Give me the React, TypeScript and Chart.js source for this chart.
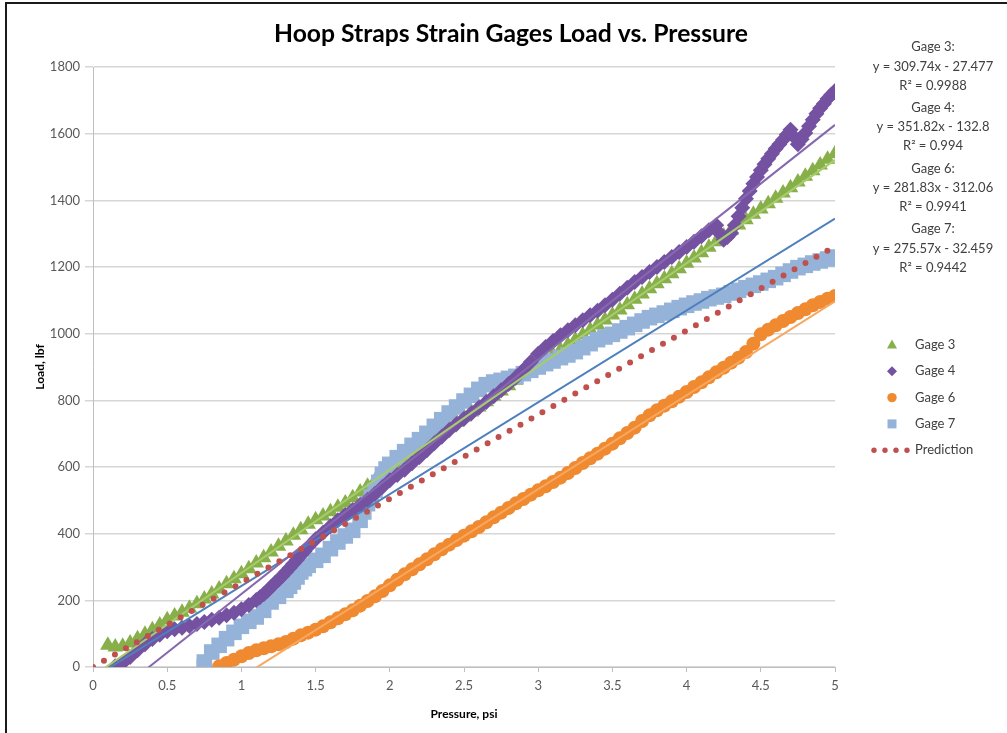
import React, { useEffect, useRef } from 'react';
import { Chart, registerables } from 'chart.js';

Chart.register(...registerables);

// Pressure readings (psi), one row per 0.5 psi
const PRESSURE = [
  0.0, 0.05, 0.1, 0.15, 0.2, 0.25, 0.3, 0.35, 0.4, 0.45,
  0.5, 0.55, 0.6, 0.65, 0.7, 0.75, 0.8, 0.85, 0.9, 0.95,
  1.0, 1.05, 1.1, 1.15, 1.2, 1.25, 1.3, 1.35, 1.4, 1.45,
  1.5, 1.55, 1.6, 1.65, 1.7, 1.75, 1.8, 1.85, 1.9, 1.95,
  2.0, 2.05, 2.1, 2.15, 2.2, 2.25, 2.3, 2.35, 2.4, 2.45,
  2.5, 2.55, 2.6, 2.65, 2.7, 2.75, 2.8, 2.85, 2.9, 2.95,
  3.0, 3.05, 3.1, 3.15, 3.2, 3.25, 3.3, 3.35, 3.4, 3.45,
  3.5, 3.55, 3.6, 3.65, 3.7, 3.75, 3.8, 3.85, 3.9, 3.95,
  4.0, 4.05, 4.1, 4.15, 4.2, 4.25, 4.3, 4.35, 4.4, 4.45,
  4.5, 4.55, 4.6, 4.65, 4.7, 4.75, 4.8, 4.85, 4.9, 4.95,
  5.0,
];

// Strap loads (lbf) for each gage, aligned with PRESSURE
const GAGE_3 = [
  null, null, 65, 60, 62, 72, 85, 98, 112, 126,
  142, 153, 164, 176, 190, 204, 219, 234, 250, 265,
  280, 295, 312, 328, 345, 362, 378, 395, 412, 428,
  442, 453, 466, 479, 492, 508, 525, 542, 558, 574,
  590, 606, 622, 638, 654, 670, 686, 702, 718, 734,
  750, 765, 780, 796, 812, 828, 844, 860, 876, 890,
  905, 920, 936, 951, 966, 981, 996, 1011, 1026, 1041,
  1056, 1071, 1087, 1103, 1119, 1135, 1150, 1165, 1180, 1195,
  1211, 1227, 1243, 1259, 1276, 1293, 1310, 1326, 1342, 1358,
  1374, 1390, 1406, 1422, 1438, 1455, 1472, 1489, 1506, 1523,
  1540,
];

const GAGE_4 = [
  null, null, null, 2, 12, 30, 50, 68, 84, 97,
  107, 113, 118, 123, 129, 135, 142, 148, 155, 163,
  173, 186, 201, 218, 240, 262, 285, 310, 335, 360,
  383, 403, 422, 440, 456, 471, 486, 502, 520, 540,
  560, 576, 592, 611, 630, 650, 671, 691, 711, 729,
  745, 761, 778, 795, 812, 830, 849, 869, 891, 915,
  940, 960, 978, 995, 1010, 1025, 1040, 1055, 1069, 1085,
  1102, 1120, 1138, 1155, 1170, 1185, 1200, 1215, 1230, 1245,
  1260, 1276, 1292, 1310, 1325, 1282, 1302, 1352, 1405, 1450,
  1490, 1525, 1555, 1582, 1612, 1568, 1602, 1642, 1676, 1705,
  1728,
];

// Extra Gage 4 readings where the load climbs fast
const GAGE_4_EXTRA_PRESSURE = [
  1.125, 1.175, 1.225, 1.275, 1.325, 1.375, 1.425,
  4.225, 4.275, 4.325, 4.375, 4.425, 4.475, 4.525, 4.575, 4.625, 4.675,
  4.725, 4.775, 4.825, 4.875, 4.925, 4.975,
];
const GAGE_4_EXTRA_LOAD = [
  209, 229, 251, 273, 297, 322, 347,
  1300, 1290, 1325, 1378, 1428, 1470, 1508, 1540, 1568, 1597,
  1590, 1583, 1622, 1660, 1690, 1717,
];

const GAGE_6 = [
  null, null, null, null, null, null, null, null, null, null,
  null, null, null, null, null, null, null, 2, 12, 22,
  32, 42, 50, 56, 62, 68, 75, 85, 95, 103,
  112, 122, 134, 146, 158, 170, 184, 198, 212, 228,
  245, 262, 278, 293, 308, 323, 338, 353, 367, 381,
  394, 407, 420, 434, 449, 463, 477, 491, 504, 517,
  530, 542, 555, 568, 582, 597, 612, 626, 640, 655,
  670, 686, 702, 718, 738, 755, 770, 784, 797, 811,
  825, 840, 854, 869, 884, 898, 913, 928, 945, 970,
  998, 1012, 1025, 1038, 1050, 1062, 1073, 1085, 1095, 1105,
  1113,
];

const GAGE_7 = [
  null, null, null, null, null, null, null, null, null, null,
  null, null, null, null, null, 15, 45, 65, 85, 104,
  122, 137, 150, 170, 195, 212, 230, 255, 285, 305,
  320, 335, 355, 375, 393, 410, 440, 490, 530, 578,
  608, 628, 646, 665, 682, 701, 722, 742, 762, 780,
  798, 815, 833, 847, 855, 860, 866, 872, 880, 890,
  900, 910, 918, 928, 936, 946, 958, 970, 982, 990,
  998, 1008, 1018, 1028, 1038, 1048, 1055, 1062, 1070, 1078,
  1085, 1092, 1098, 1105, 1110, 1115, 1122, 1130, 1138, 1145,
  1152, 1160, 1168, 1178, 1188, 1198, 1205, 1212, 1218, 1224,
  1230,
];

// Extra Gage 7 readings where the load climbs fast
const GAGE_7_EXTRA_PRESSURE = [0.75, 1.325, 1.375, 1.425, 1.825, 1.875, 1.925, 1.975];
const GAGE_7_EXTRA_LOAD = [0, 242, 270, 295, 465, 510, 554, 594];

// Predicted load line
const PREDICTION_PRESSURE = [0, 5];
const PREDICTION_LOAD = [0, 1262];

// Linear fits, in the order Gage 3, 4, 6, 7
const FIT_NAMES = ['Gage 3', 'Gage 4', 'Gage 6', 'Gage 7'];
const FIT_SLOPE = [309.74, 351.82, 281.83, 275.57];
const FIT_INTERCEPT = [-27.477, -132.8, -312.06, -32.459];
const FIT_R2 = [0.9988, 0.994, 0.9941, 0.9442];
const FIT_RANGE = [0, 5];

const TITLE = 'Hoop Straps Strain Gages Load vs. Pressure';
const X_TITLE = 'Pressure, psi';
const Y_TITLE = 'Load, lbf';
const LEGEND_LABELS = ['Gage 3', 'Gage 4', 'Gage 6', 'Gage 7', 'Prediction'];

const FONT = 'Lato, "Open Sans", sans-serif';
const COLORS = {
  g3: '#87AF4A',
  g3Fit: '#A6CC6C',
  g4: '#7551A1',
  g4Fit: '#8568AF',
  g6: '#F08A30',
  g6Fit: '#F8A75E',
  g7: '#95B3D8',
  g7Fit: '#4D80BD',
  pred: '#C0504D',
  text: '#404040',
  tick: '#595959',
  grid: '#D6D6D6',
  axis: '#BFBFBF',
};

const toPoints = (values: (number | null)[], extraP: number[] = [], extraL: number[] = []) => {
  const pts = PRESSURE.map((p, i) => (values[i] == null ? null : { x: p, y: values[i] as number })).filter(
    (pt) => pt !== null
  ) as { x: number; y: number }[];
  extraP.forEach((p, i) => pts.push({ x: p, y: extraL[i] }));
  return pts.sort((a, b) => a.x - b.x);
};

const fitPoints = (k: number) =>
  FIT_RANGE.map((x) => ({ x, y: FIT_SLOPE[k] * x + FIT_INTERCEPT[k] }));

// Title, fit equations and legend drawn on the canvas beside the plot
const sidePanel = {
  id: 'sidePanel',
  afterDraw(chart: any) {
    const ctx: CanvasRenderingContext2D = chart.ctx;
    ctx.save();
    ctx.textAlign = 'center';
    ctx.textBaseline = 'middle';
    ctx.fillStyle = '#000';
    ctx.font = `bold 24.7px ${FONT}`;
    ctx.fillText(TITLE, 511, 34);

    ctx.font = `13px ${FONT}`;
    ctx.fillStyle = COLORS.text;
    FIT_NAMES.forEach((name, k) => {
      const y0 = 47 + k * 60.7;
      const sign = FIT_INTERCEPT[k] < 0 ? '-' : '+';
      ctx.fillText(`${name}:`, 933, y0);
      ctx.fillText(`y = ${FIT_SLOPE[k]}x ${sign} ${Math.abs(FIT_INTERCEPT[k])}`, 933, y0 + 19.5);
      ctx.fillText(`R\u00B2 = ${FIT_R2[k]}`, 933, y0 + 38.5);
    });

    // legend
    const mx = 892;
    const tx = 915;
    LEGEND_LABELS.forEach((label, k) => {
      const y = 345 + k * 26.3;
      ctx.beginPath();
      if (k === 0) {
        ctx.fillStyle = COLORS.g3;
        ctx.moveTo(mx, y - 5.5);
        ctx.lineTo(mx + 5, y + 3.5);
        ctx.lineTo(mx - 5, y + 3.5);
        ctx.closePath();
        ctx.fill();
      } else if (k === 1) {
        ctx.fillStyle = COLORS.g4;
        ctx.moveTo(mx, y - 5);
        ctx.lineTo(mx + 5, y);
        ctx.lineTo(mx, y + 5);
        ctx.lineTo(mx - 5, y);
        ctx.closePath();
        ctx.fill();
      } else if (k === 2) {
        ctx.fillStyle = COLORS.g6;
        ctx.arc(mx, y, 4.7, 0, Math.PI * 2);
        ctx.fill();
      } else if (k === 3) {
        ctx.fillStyle = COLORS.g7;
        ctx.fillRect(mx - 4.5, y - 4.5, 9, 9);
      } else {
        ctx.fillStyle = COLORS.pred;
        [874, 885, 896, 907].forEach((dx) => {
          ctx.beginPath();
          ctx.arc(dx, y, 2.7, 0, Math.PI * 2);
          ctx.fill();
        });
      }
      ctx.fillStyle = COLORS.text;
      ctx.textAlign = 'left';
      ctx.fillText(label, tx, y);
      ctx.textAlign = 'center';
    });
    ctx.restore();
  },
};

export default function App() {
  const canvasRef = useRef<HTMLCanvasElement>(null);

  useEffect(() => {
    const canvas = canvasRef.current;
    if (!canvas) return;

    const markerSet = (label: string, data: { x: number; y: number }[], style: string, radius: number, color: string, order: number) => ({
      label,
      data,
      pointStyle: style,
      pointRadius: radius,
      backgroundColor: color,
      borderColor: color,
      borderWidth: 0,
      showLine: false,
      order,
    });

    const fitSet = (k: number, color: string) => ({
      label: `${FIT_NAMES[k]} fit`,
      data: fitPoints(k),
      showLine: true,
      borderColor: color,
      borderWidth: 2,
      pointRadius: 0,
      order: 1,
    });

    const chart = new Chart(canvas, {
      type: 'scatter',
      data: {
        datasets: [
          markerSet('Gage 3', toPoints(GAGE_3), 'triangle', 9, COLORS.g3, 5),
          markerSet('Gage 4', toPoints(GAGE_4, GAGE_4_EXTRA_PRESSURE, GAGE_4_EXTRA_LOAD), 'rectRot', 8, COLORS.g4, 2),
          markerSet('Gage 6', toPoints(GAGE_6), 'circle', 7, COLORS.g6, 3),
          markerSet('Gage 7', toPoints(GAGE_7, GAGE_7_EXTRA_PRESSURE, GAGE_7_EXTRA_LOAD), 'rect', 11, COLORS.g7, 4),
          fitSet(0, COLORS.g3Fit),
          fitSet(1, COLORS.g4Fit),
          fitSet(2, COLORS.g6Fit),
          fitSet(3, COLORS.g7Fit),
          {
            label: 'Prediction',
            data: PREDICTION_PRESSURE.map((x, i) => ({ x, y: PREDICTION_LOAD[i] })),
            showLine: true,
            borderColor: COLORS.pred,
            borderWidth: 6,
            borderDash: [0, 12.6],
            borderCapStyle: 'round',
            pointRadius: 0,
            order: 0,
          },
        ] as any,
      },
      options: {
        responsive: false,
        animation: false,
        events: [],
        layout: { padding: { left: 0, top: 67, right: 172, bottom: 0 } },
        plugins: {
          legend: { display: false },
          tooltip: { enabled: false },
          title: { display: false },
        },
        scales: {
          x: {
            type: 'linear',
            min: 0,
            max: 5,
            afterFit: (scale: any) => {
              scale.height = 66;
            },
            ticks: {
              stepSize: 0.5,
              maxRotation: 0,
              padding: 6,
              color: COLORS.tick,
              font: { family: FONT, size: 13 },
              callback: (value: number) => String(value),
            },
            grid: {
              drawOnChartArea: false,
              drawTicks: true,
              tickLength: 5,
              color: COLORS.axis,
            },
            border: { display: true, color: COLORS.axis, width: 1 },
            title: {
              display: true,
              text: X_TITLE,
              color: '#000',
              font: { family: FONT, size: 12, weight: 'bold' },
              padding: { top: 0, bottom: 12 },
            },
          },
          y: {
            type: 'linear',
            min: 0,
            max: 1800,
            afterFit: (scale: any) => {
              scale.width = 93;
            },
            ticks: {
              stepSize: 200,
              padding: 5,
              color: COLORS.tick,
              font: { family: FONT, size: 13 },
              callback: (value: number) => String(value),
            },
            grid: {
              color: COLORS.grid,
              lineWidth: 1.5,
              tickLength: 8,
            },
            border: { display: true, color: COLORS.axis, width: 1 },
            title: {
              display: true,
              text: Y_TITLE,
              color: '#000',
              font: { family: FONT, size: 12, weight: 'bold' },
              padding: { top: 33, bottom: 0 },
            },
          },
        },
      } as any,
      plugins: [sidePanel],
    });

    return () => chart.destroy();
  }, []);

  return (
    <div
      style={{
        position: 'fixed',
        left: 0,
        top: 0,
        width: 1007,
        height: 733,
        overflow: 'hidden',
        background: '#fff',
      }}
    >
      <canvas
        ref={canvasRef}
        width={1007}
        height={733}
        style={{ position: 'absolute', left: 0, top: 0, width: 1007, height: 733 }}
      />
      <div
        style={{
          position: 'absolute',
          left: 5,
          top: 2,
          width: 1100,
          height: 800,
          border: '2px solid #1a1a1a',
          boxSizing: 'border-box',
          pointerEvents: 'none',
        }}
      />
    </div>
  );
}
